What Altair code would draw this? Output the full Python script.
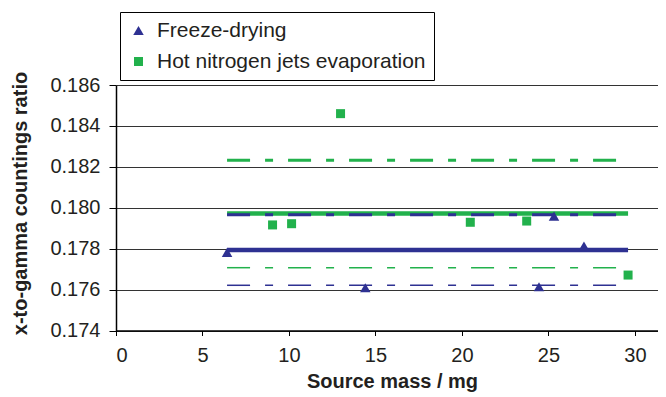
import altair as alt
import pandas as pd

# ---- data ----
series_names = ["Freeze-drying", "Hot nitrogen jets evaporation"]
series_colors = ["#2E3192", "#22B14C"]
series_shapes = ["triangle-up", "square"]

fd_mass = [6.42, 14.41, 24.45, 25.32, 27.05]
fd_ratio = [0.17782, 0.17609, 0.17614, 0.17959, 0.17813]

hn_mass = [9.05, 10.15, 12.98, 20.48, 23.74, 29.6]
hn_ratio = [0.17916, 0.17922, 0.1846, 0.17929, 0.17935, 0.17671]

line_mass = [6.42, 29.6]          # mean / spread lines span the mass range
line_kinds = ["mean", "upper", "lower"]
fd_levels = [0.17794, 0.17966, 0.17621]
hn_levels = [0.17972, 0.18232, 0.17707]

x_ticks = [0, 5, 10, 15, 20, 25, 30]
y_ticks = [0.174, 0.176, 0.178, 0.180, 0.182, 0.184, 0.186]

# ---- tables ----
pts = pd.DataFrame(
    [{"series": series_names[0], "mass": m, "ratio": r} for m, r in zip(fd_mass, fd_ratio)]
    + [{"series": series_names[1], "mass": m, "ratio": r} for m, r in zip(hn_mass, hn_ratio)]
)

def line_table(levels, name):
    rows = []
    for k, lv in zip(line_kinds, levels):
        for m in line_mass:
            rows.append({"series": name, "kind": k, "mass": m, "ratio": lv})
    return pd.DataFrame(rows)

fd_lines = line_table(fd_levels, series_names[0])
hn_lines = line_table(hn_levels, series_names[1])

FONT = "Liberation Sans"
x_scale = alt.Scale(domain=[0, 31.33], nice=False, zero=False)
y_scale = alt.Scale(domain=[0.174, 0.186], nice=False, zero=False)

x_enc = alt.X(
    "mass:Q", scale=x_scale,
    axis=alt.Axis(
        values=x_ticks, grid=False, title="Source mass / mg", format="d",
        titleX=276, titleY=57, titleBaseline="alphabetic", titleAnchor=None,
        tickSize=5, labelPadding=10,
    ),
)
y_enc = alt.Y(
    "ratio:Q", scale=y_scale,
    axis=alt.Axis(
        values=y_ticks, grid=True, format=".3f", title="x-to-gamma countings ratio",
        titleAngle=270, titleX=-90, titleY=118, titleAlign="center",
        titleBaseline="alphabetic", tickSize=7, labelPadding=9,
    ),
)

kind_dash = alt.StrokeDash(
    "kind:N", legend=None,
    scale=alt.Scale(domain=line_kinds, range=[[1, 0], [23, 15, 8, 15], [23, 15, 8, 15]]),
)
kind_width = alt.StrokeWidth(
    "kind:N", legend=None,
    scale=alt.Scale(domain=line_kinds, range=[4.5, 1.5, 1.5]),
)

hn_line_layer = alt.Chart(hn_lines).mark_line(strokeCap="butt").encode(
    x=x_enc, y=y_enc, detail="kind:N",
    color=alt.value(series_colors[1]), strokeDash=kind_dash, strokeWidth=kind_width,
)
fd_line_layer = alt.Chart(fd_lines).mark_line(strokeCap="butt").encode(
    x=x_enc, y=y_enc, detail="kind:N",
    color=alt.value(series_colors[0]), strokeDash=kind_dash, strokeWidth=kind_width,
)

point_layer = alt.Chart(pts).mark_point(filled=True, opacity=1, strokeWidth=0).encode(
    x=x_enc, y=y_enc,
    color=alt.Color(
        "series:N",
        scale=alt.Scale(domain=series_names, range=series_colors),
        legend=alt.Legend(
            title=None, orient="none", legendX=4, legendY=-73,
            direction="vertical", symbolSize=70, symbolStrokeWidth=0,
            labelFontSize=21, labelFont=FONT, labelColor="#231F20",
            labelOffset=8, rowPadding=9, padding=8,
            strokeColor="#000000", fillColor="#FFFFFF", labelLimit=400,
        ),
    ),
    shape=alt.Shape(
        "series:N", scale=alt.Scale(domain=series_names, range=series_shapes),
    ),
    size=alt.Size(
        "series:N", legend=None,
        scale=alt.Scale(domain=series_names, range=[110, 81]),
    ),
)

chart = (
    alt.layer(hn_line_layer, fd_line_layer, point_layer)
    .properties(
        width=542, height=245.5,
        autosize=alt.AutoSizeParams(type="none"),
        padding={"left": 108, "top": 77, "right": 0, "bottom": 66},
    )
    .configure_view(stroke=None)
    .configure_axis(
        labelFont=FONT, labelFontSize=20, labelColor="#231F20",
        titleFont=FONT, titleFontSize=20, titleFontWeight="bold", titleColor="#231F20",
        domainColor="#000000", domainWidth=1.5, tickColor="#000000", tickWidth=1,
        gridColor="#333333", gridWidth=1, gridOpacity=1,
    )
)

chart.save("out.html", embed_options={"renderer": "svg", "actions": False})
